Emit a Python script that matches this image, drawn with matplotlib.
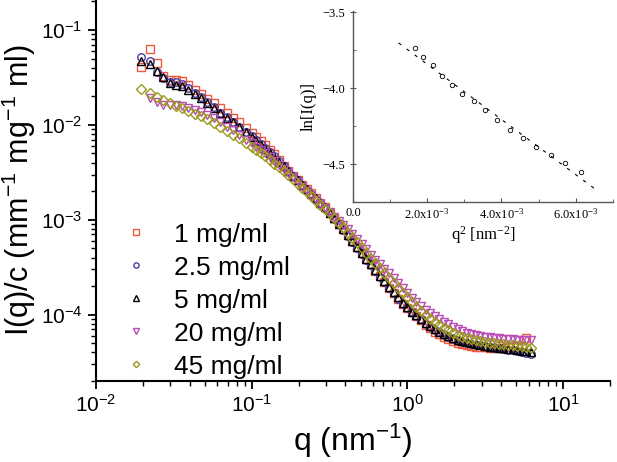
import numpy as np
import matplotlib
matplotlib.use("Agg")
import matplotlib.pyplot as plt
from matplotlib.ticker import LogLocator, NullFormatter, MultipleLocator, FixedLocator, FixedFormatter

plt.rcParams['font.family'] = ['Liberation Sans', 'DejaVu Sans']
plt.rcParams['mathtext.default'] = 'regular'

# scattering vector q (nm^-1), shared by all series
q = [0.0194, 0.0222, 0.0247, 0.027, 0.0298, 0.0325, 0.0355, 0.039, 0.043, 0.047,
     0.052, 0.057, 0.063, 0.069, 0.076, 0.083, 0.092,
     0.100, 0.107, 0.1145, 0.1225, 0.131, 0.140, 0.150, 0.161, 0.172, 0.184,
     0.197, 0.211, 0.225, 0.241, 0.258, 0.276, 0.295, 0.316, 0.338, 0.362,
     0.387, 0.414, 0.443, 0.474, 0.507, 0.543, 0.581, 0.621, 0.665, 0.711,
     0.761, 0.815, 0.872, 0.933, 0.998, 1.07, 1.14, 1.22, 1.31, 1.40,
     1.50, 1.60, 1.71, 1.83, 1.96, 2.10, 2.25, 2.40, 2.57, 2.75,
     2.94, 3.15, 3.37, 3.61, 3.86, 4.13, 4.42, 4.73, 5.06, 5.41,
     5.79, 6.2]

I_1 = [0.0411, 0.0626, 0.0447, 0.033, 0.030, 0.0296, 0.0287, 0.0262, 0.0232, 0.021,
       0.0188, 0.017, 0.015, 0.0135, 0.0119, 0.0106, 0.0093,
       0.0083, 0.0075, 0.0068, 0.0061, 0.0055, 0.0049, 0.0043, 0.0037, 0.0033, 0.0029,
       0.0026, 0.0023, 0.0021, 0.0019, 0.00169, 0.00152, 0.00136, 0.00119, 0.00104, 0.00091,
       0.0008, 0.00069, 0.0006, 0.00052, 0.00045, 0.00039, 0.00034, 0.00029, 0.000255, 0.00022,
       0.00019, 0.000168, 0.000147, 0.00013, 0.000117, 0.000106, 9.6e-5, 8.7e-5, 7.8e-5, 7.2e-5,
       6.6e-5, 6.2e-5, 5.85e-5, 5.5e-5, 5.25e-5, 5.05e-5, 4.9e-5, 4.8e-5, 4.7e-5, 4.62e-5,
       4.58e-5, 4.55e-5, 4.5e-5, 4.5e-5, 4.5e-5, 4.5e-5, 4.55e-5, 4.55e-5, 4.6e-5, 4.7e-5,
       5.7e-5, np.nan]

I_2p5 = [0.0525, 0.047, 0.036, 0.031, 0.0285, 0.0282, 0.027, 0.0245, 0.0218, 0.0198,
         0.0175, 0.0153, 0.0135, 0.0121, 0.0108, 0.0096, 0.0085,
         0.0076, 0.0069, 0.0063, 0.0057, 0.0052, 0.0047, 0.0042, 0.0037, 0.0033, 0.0029,
         0.0026, 0.0023, 0.00208, 0.00188, 0.00167, 0.0015, 0.00134, 0.00117, 0.00103, 0.0009,
         0.00078, 0.00068, 0.00059, 0.00051, 0.00044, 0.00038, 0.00033, 0.00029, 0.000252, 0.00022,
         0.000192, 0.000168, 0.000148, 0.000131, 0.000117, 0.000106, 9.7e-5, 8.9e-5, 8.0e-5, 7.4e-5,
         6.9e-5, 6.5e-5, 6.15e-5, 5.85e-5, 5.6e-5, 5.35e-5, 5.2e-5, 5.05e-5, 4.95e-5, 4.85e-5,
         4.75e-5, 4.65e-5, 4.55e-5, 4.5e-5, 4.42e-5, 4.35e-5, 4.28e-5, 4.2e-5, 4.1e-5, 4.0e-5,
         3.95e-5, 3.85e-5]

I_5 = [0.047, 0.044, 0.037, 0.032, 0.0277, 0.0266, 0.026, 0.0233, 0.0212, 0.0194,
       0.0172, 0.0149, 0.0132, 0.0119, 0.0106, 0.0095, 0.0084,
       0.0075, 0.0068, 0.0062, 0.0056, 0.0051, 0.0046, 0.0041, 0.0037, 0.0033, 0.0029,
       0.0026, 0.0023, 0.00209, 0.00189, 0.00168, 0.00151, 0.00135, 0.00118, 0.00104, 0.00091,
       0.00079, 0.00069, 0.0006, 0.00052, 0.00045, 0.00039, 0.00034, 0.000295, 0.000257, 0.000224,
       0.000196, 0.000172, 0.000152, 0.000134, 0.00012, 0.000108, 9.9e-5, 9.0e-5, 8.2e-5, 7.6e-5,
       7.05e-5, 6.6e-5, 6.25e-5, 5.95e-5, 5.7e-5, 5.45e-5, 5.3e-5, 5.15e-5, 5.0e-5, 4.9e-5,
       4.8e-5, 4.7e-5, 4.62e-5, 4.55e-5, 4.48e-5, 4.42e-5, 4.35e-5, 4.3e-5, 4.22e-5, 4.15e-5,
       4.1e-5, 4.0e-5]

I_20 = [np.nan, 0.0191, 0.0176, 0.0163, 0.0162, 0.0161, 0.0157, 0.0152, 0.0145, 0.0138,
        0.0128, 0.0118, 0.0106, 0.0096, 0.0088, 0.0079, 0.0070,
        0.0064, 0.0059, 0.0054, 0.005, 0.0046, 0.0042, 0.0038, 0.0034, 0.0031, 0.0028,
        0.0025, 0.00222, 0.002, 0.0018, 0.00162, 0.00147, 0.00133, 0.0012, 0.00108, 0.00097,
        0.00088, 0.00079, 0.0007, 0.00062, 0.00055, 0.00049, 0.00043, 0.00038, 0.00034, 0.000305,
        0.000275, 0.000245, 0.000215, 0.00019, 0.000168, 0.00015, 0.000136, 0.000124, 0.000113, 0.000104,
        9.6e-5, 9.0e-5, 8.4e-5, 7.9e-5, 7.4e-5, 7.0e-5, 6.7e-5, 6.45e-5, 6.25e-5, 6.1e-5,
        5.95e-5, 5.85e-5, 5.75e-5, 5.68e-5, 5.62e-5, 5.56e-5, 5.52e-5, 5.48e-5, 5.45e-5, 5.42e-5,
        5.4e-5, 5.4e-5]

I_45 = [0.0239, 0.0219, 0.0199, 0.0183, 0.0169, 0.0159, 0.015, 0.014, 0.0131, 0.0124,
        0.0114, 0.0104, 0.0095, 0.0087, 0.0079, 0.0072, 0.0065,
        0.0059, 0.0055, 0.0051, 0.0047, 0.0043, 0.0039, 0.0036, 0.0033, 0.003, 0.0027,
        0.0024, 0.00215, 0.00195, 0.00176, 0.00159, 0.00144, 0.0013, 0.00117, 0.00104, 0.00093,
        0.00083, 0.00073, 0.00065, 0.00058, 0.00051, 0.00045, 0.00039, 0.00035, 0.00031, 0.000275,
        0.000245, 0.000218, 0.000193, 0.000171, 0.000152, 0.000135, 0.000121, 0.000109, 9.9e-5, 9.0e-5,
        8.3e-5, 7.8e-5, 7.3e-5, 6.85e-5, 6.45e-5, 6.1e-5, 5.85e-5, 5.65e-5, 5.5e-5, 5.38e-5,
        5.25e-5, 5.15e-5, 5.07e-5, 5.0e-5, 4.95e-5, 4.88e-5, 4.82e-5, 4.75e-5, 4.7e-5, 4.65e-5,
        4.6e-5, 4.5e-5]

labels = ['1 mg/ml', '2.5 mg/ml', '5 mg/ml', '20 mg/ml', '45 mg/ml']

# inset: Guinier plot
q2_in = [1.68e-3, 1.90e-3, 2.15e-3, 2.40e-3, 2.67e-3, 2.95e-3, 3.26e-3, 3.55e-3,
         3.89e-3, 4.22e-3, 4.59e-3, 4.94e-3, 5.33e-3, 5.72e-3, 6.14e-3]
lnI_in = [-3.737, -3.793, -3.85, -3.92, -3.98, -4.037, -4.085, -4.141,
          -4.209, -4.276, -4.328, -4.383, -4.439, -4.493, -4.548]
fit_q2 = [1.23e-3, 6.50e-3]
fit_lnI = [-3.702, -4.659]
inset_xticks = [0.0, 2e-3, 4e-3, 6e-3]
inset_xticklabels = ['0.0', r'$2.0x10^{-3}$', r'$4.0x10^{-3}$', r'$6.0x10^{-3}$']

series = [I_1, I_2p5, I_5, I_20, I_45]
markers = ['s', 'o', '^', 'v', 'D']
colors = ['#F05A3C', '#4A3CA8', '#000000', '#B84CB4', '#9C9A1E']
msizes = [5.2, 5.4, 5.4, 5.4, 4.6]

fig = plt.figure(figsize=(6.17, 4.62), dpi=100)
ax = fig.add_axes([0.1556, 0.1753, 0.8331, 0.8247])

for y, m, c, ms, lab in zip(series, markers, colors, msizes, labels):
    ax.plot(q, y, linestyle='none', marker=m, ms=ms, mfc='none', mec=c, mew=1.0, label=lab)

ax.set_xscale('log')
ax.set_yscale('log')
ax.set_xlim(0.01, 20)
ax.set_ylim(2.0e-5, 0.207)
for s in ['top', 'right']:
    ax.spines[s].set_visible(False)
for s in ['left', 'bottom']:
    ax.spines[s].set_linewidth(1.5)
ax.xaxis.set_minor_locator(LogLocator(subs=np.arange(2, 10)))
ax.yaxis.set_minor_locator(LogLocator(subs=np.arange(2, 10)))
ax.xaxis.set_minor_formatter(NullFormatter())
ax.yaxis.set_minor_formatter(NullFormatter())
ax.tick_params(which='major', direction='out', length=6, width=1.3, labelsize=15)
ax.tick_params(which='minor', direction='out', length=3.5, width=1.0)
ax.set_xlabel(r'q (nm$^{-1}$)', fontsize=23, labelpad=4)
ax.set_ylabel(r'I(q)/c (mm$^{-1}$ mg$^{-1}$ ml)', fontsize=22, labelpad=2)

ax.legend(loc='upper left', bbox_to_anchor=(0.199, 0.518), bbox_transform=fig.transFigure,
          frameon=False, fontsize=19, markerscale=0.7, handlelength=1.0,
          handletextpad=0.95, labelspacing=0.34, borderpad=0, borderaxespad=0)

# inset
ax_in = fig.add_axes([0.572, 0.5634, 0.4214, 0.4134])
ax_in.plot(q2_in, lnI_in, linestyle='none', marker='o', ms=3.2, mfc='none', mec='black', mew=0.6)
ax_in.plot(fit_q2, fit_lnI, color='black', lw=0.8, dashes=(3, 6))
ax_in.set_xlim(0, 7e-3)
ax_in.set_ylim(-4.746, -3.49)
for s in ['top', 'right']:
    ax_in.spines[s].set_visible(False)
for s in ['left', 'bottom']:
    ax_in.spines[s].set_color('#555555')
    ax_in.spines[s].set_linewidth(1.0)
ax_in.xaxis.set_major_locator(FixedLocator(inset_xticks))
ax_in.xaxis.set_major_formatter(FixedFormatter(inset_xticklabels))
ax_in.xaxis.set_minor_locator(MultipleLocator(1e-3))
ax_in.yaxis.set_major_locator(MultipleLocator(0.5))
ax_in.yaxis.set_minor_locator(MultipleLocator(0.25))
ax_in.tick_params(axis='x', which='major', direction='in', length=3, color='#555555', labelsize=9)
ax_in.tick_params(axis='x', which='minor', direction='in', length=2, color='#555555')
ax_in.tick_params(axis='y', which='major', direction='inout', length=4, color='#555555', labelsize=9)
ax_in.tick_params(axis='y', which='minor', direction='in', length=2, color='#555555')
for t in ax_in.get_xticklabels() + ax_in.get_yticklabels():
    t.set_family('Liberation Serif')
ax_in.set_xlabel(r'q$^{2}$ [nm$^{-2}$]', fontsize=12, family='Liberation Serif', labelpad=2)
ax_in.set_ylabel('ln[I(q)]', fontsize=12, family='Liberation Serif', labelpad=4)

fig.savefig('out.png', dpi=100)
